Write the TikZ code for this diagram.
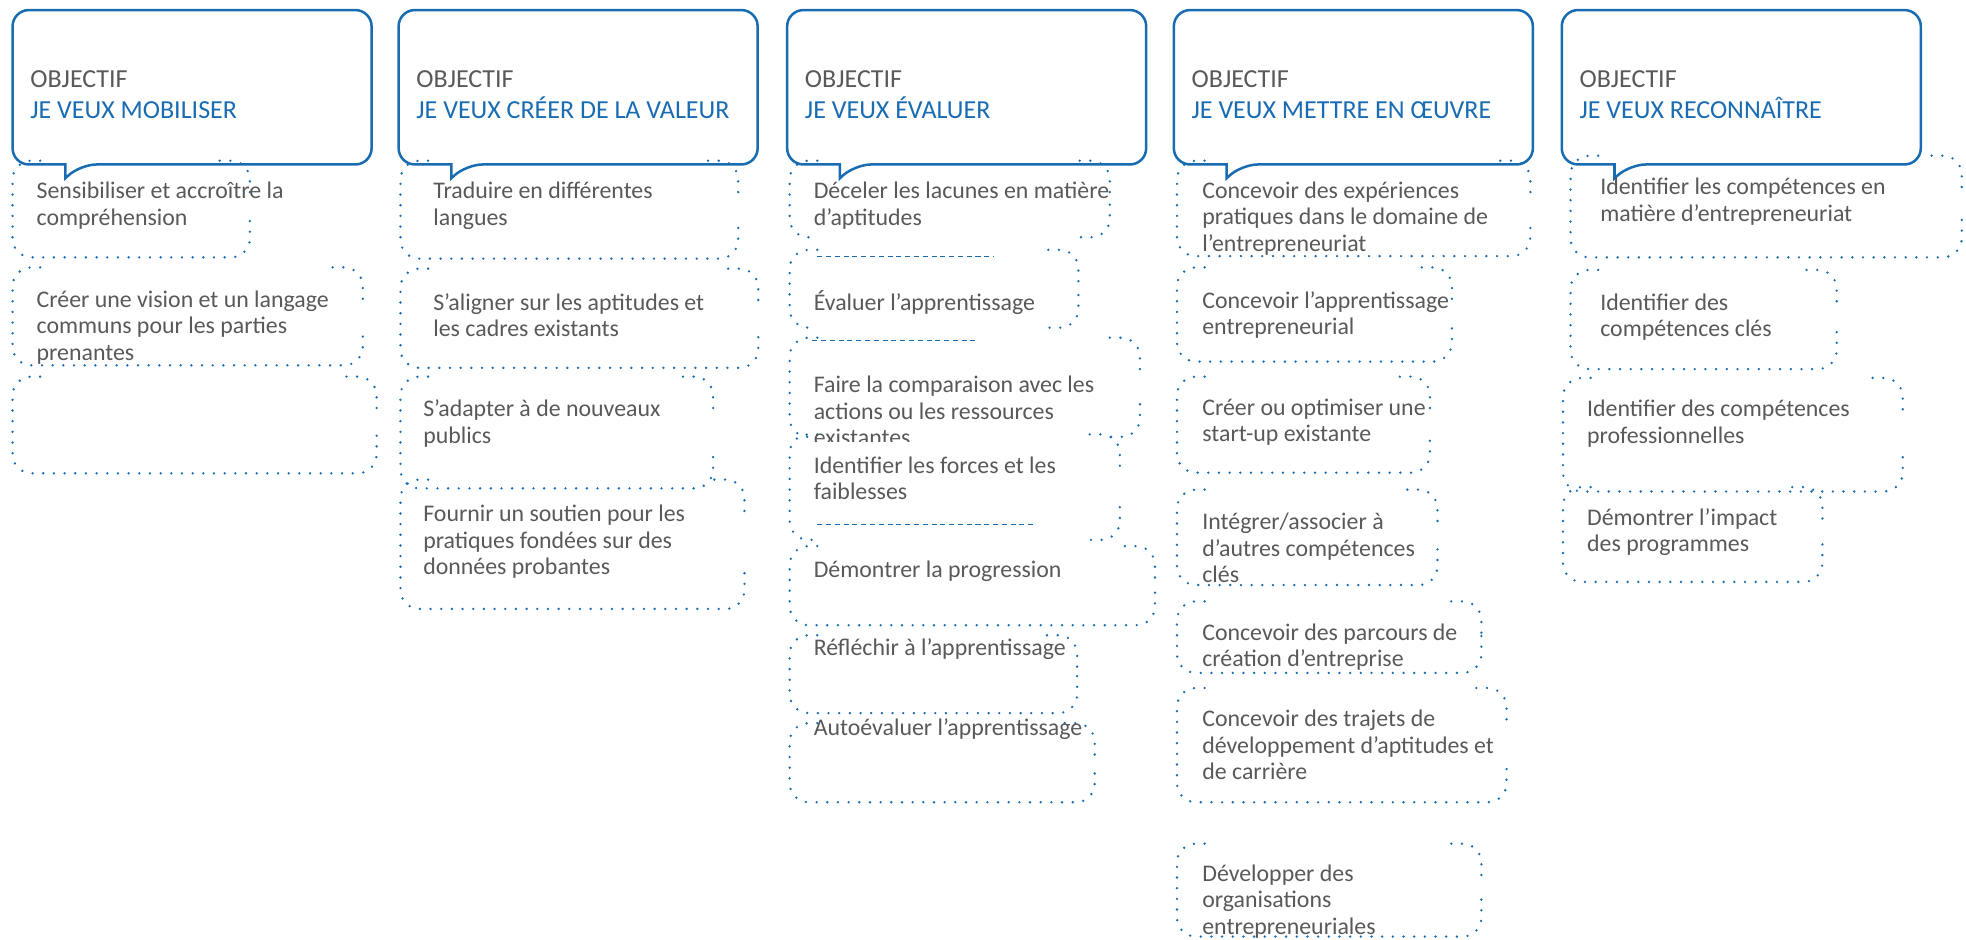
\documentclass[tikz,border=0pt]{standalone}
\usepackage{fontspec}
\setmainfont{Carlito}
\definecolor{cblue}{RGB}{25,108,178}
\definecolor{ctext}{RGB}{89,89,89}
\tikzset{
  callout/.style={draw=cblue, line width=2pt, fill=white},
  dotbox/.style={draw=cblue, line width=2.1pt, line cap=round, dash pattern=on 0pt off 8.5pt, rounded corners=15pt},
  dashln/.style={draw=cblue, line width=0.8pt, dash pattern=on 4pt off 3pt},
  body/.style={anchor=base west, inner sep=0pt, text=ctext, align=left, font=\fontsize{19}{21}\selectfont},
  head/.style={anchor=base west, inner sep=0pt, align=left, font=\fontsize{20.7}{24.5}\selectfont},
}
% multi-line nodes: the base anchor is the baseline of the LAST line
\newcommand\callout[3]{%
  \draw[callout] (#1,70) [rounded corners=13pt] -- (#1,8) -- ({#1+286},8) -- ({#1+286},131) -- ({#1+54},131) [sharp corners] -- ({#1+42},142) -- ({#1+42},131) -- ({#1+20},131) [rounded corners=13pt] -- (#1,131) -- cycle;
  \node[head] (#2) at ({#1+14},94) {\textcolor{ctext}{OBJECTIF}\\\textcolor{cblue}{#3}};}
\newcommand\dbox[4]{%
  \draw[dotbox] ({#1+22},#2) -- (#1,#2) -- (#1,#4) -- (#3,#4) -- (#3,{#4-30});
  \draw[dotbox] ({#3-24},#2) -- (#3,#2) -- (#3,{#2+28});}
\newcommand\cbox[4]{%
  \draw[dotbox] ({#1+22},#2) -- (#1,#2) -- (#1,#4) -- ({#1+22},#4);
  \draw[dotbox] ({#3-24},#2) -- (#3,#2) -- (#3,{#2+26});
  \draw[dotbox] (#3,{#4-26}) -- (#3,#4) -- ({#3-24},#4);}
\begin{document}
\begin{tikzpicture}[x=1pt,y=-1pt]
\useasboundingbox (0,0) rectangle (1566,748);
% callouts
\callout{10}{h1}{JE VEUX MOBILISER}
\callout{317.5}{h2}{JE VEUX CRÉER DE LA VALEUR}
\callout{627}{h3}{JE VEUX ÉVALUER}
\callout{935}{h4}{JE VEUX METTRE EN ŒUVRE}
\callout{1244}{h5}{JE VEUX RECONNAÎTRE}
% column 1
\dbox{10}{128}{199}{205}
\dbox{10}{213}{289}{291}
\dbox{10}{300}{300}{377}
\node[body] (n11) at (29,179.5) {Sensibiliser et accroître la\\compréhension};
\node[body] (n12) at (29,287) {Créer une vision et un langage\\communs pour les parties\\prenantes};
% column 2
\dbox{319}{128}{588}{206}
\dbox{319}{214}{604}{293}
\dbox{319}{300}{568}{389}
\dbox{319}{382}{593}{485}
\node[body] (n21) at (345,179.5) {Traduire en différentes\\langues};
\node[body] (n22) at (345,268) {S’aligner sur les aptitudes et\\les cadres existants};
\node[body] (n23) at (337,353) {S’adapter à de nouveaux\\publics};
\node[body] (n24) at (337,457.5) {Fournir un soutien pour les\\pratiques fondées sur des\\données probantes};
% column 3
\cbox{629}{128}{884}{189}
\cbox{629}{199}{859}{261}
\cbox{629}{269}{908}{348}
\cbox{629}{346}{892}{430}
\dbox{629}{435}{920}{498}
\dbox{629}{506}{858}{568}
\dbox{629}{576}{872}{639}
\draw[dashln] (651,204.5) -- (792,204.5);
\draw[dashln] (647,271.5) -- (778,271.5);
\draw[dashln] (651,418) -- (824,418);
\node[body] (n31) at (648,179.5) {Déceler les lacunes en matière\\d’aptitudes};
\node[body] (n32) at (648,247) {Évaluer l’apprentissage};
\begin{scope}
\clip (600,260) rectangle (930,352);
\node[body] (n33) at (648,355) {Faire la comparaison avec les\\actions ou les ressources\\existantes};
\end{scope}
\node[body] (n34) at (648,398) {Identifier les forces et les\\faiblesses};
\node[body] (n35) at (648,460) {Démontrer la progression};
\node[body] (n36) at (648,522) {Réfléchir à l’apprentissage};
\node[body] (n37) at (648,585.6) {Autoévaluer l’apprentissage};
% column 4
\dbox{937.5}{128}{1219}{204}
\dbox{937.5}{213}{1156.5}{288}
\dbox{937.5}{300}{1139}{376.5}
\dbox{937.5}{390}{1145}{466}
\dbox{937.5}{479}{1180}{536}
\dbox{937.5}{548}{1200}{639}
\dbox{937.5}{672}{1180}{746}
\node[body] (n41) at (957.5,200) {Concevoir des expériences\\pratiques dans le domaine de\\l’entrepreneuriat};
\node[body] (n42) at (957.5,266.6) {Concevoir l’apprentissage\\entrepreneurial};
\node[body] (n43) at (957.5,351.6) {Créer ou optimiser une\\start-up existante};
\node[body] (n44) at (957.5,464) {Intégrer/associer à\\d’autres compétences\\clés};
\node[body] (n45) at (957.5,531) {Concevoir des parcours de\\création d’entreprise};
\node[body] (n46) at (957.5,621) {Concevoir des trajets de\\développement d’aptitudes et\\de carrière};
\node[body] (n47) at (957.5,744) {Développer des\\organisations\\entrepreneuriales};
% column 5
\dbox{1251}{124}{1562.6}{205}
\dbox{1251}{215}{1463}{294}
\dbox{1245}{301}{1515.6}{391.5}
\dbox{1245}{388}{1451.6}{463.5}
\node[body] (n51) at (1274.5,176.3) {Identifier les compétences en\\matière d’entrepreneuriat};
\node[body] (n52) at (1274.5,268) {Identifier des\\compétences clés};
\node[body] (n53) at (1264,353) {Identifier des compétences\\professionnelles};
\node[body] (n54) at (1264,439.5) {Démontrer l’impact\\des programmes};
\end{tikzpicture}
\end{document}
